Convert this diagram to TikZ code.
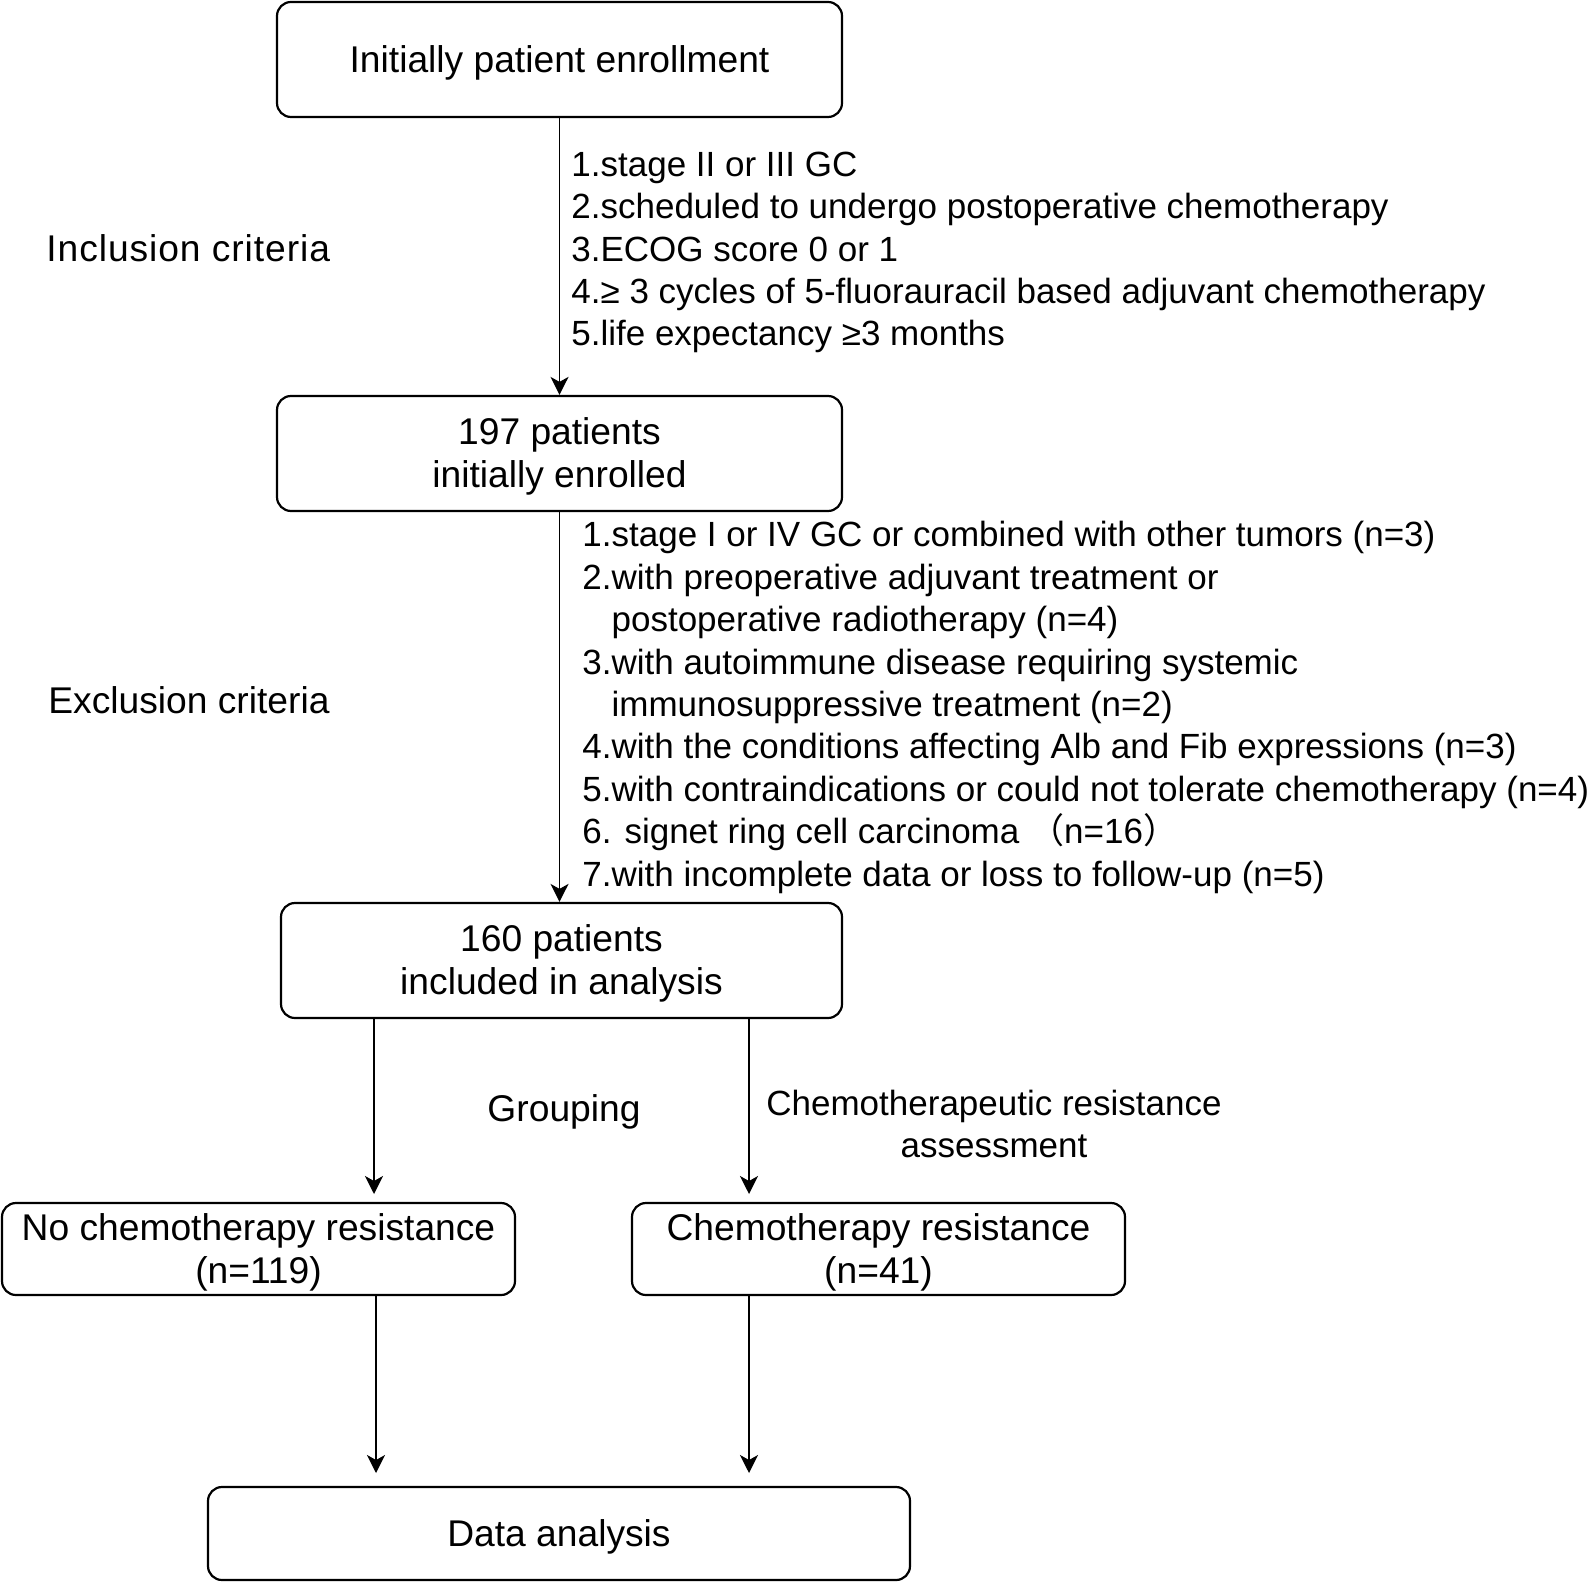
\documentclass[tikz,border=0pt]{standalone}
\usepackage{fontspec}
\setmainfont{Liberation Sans}
\newfontfamily\cjk{Noto Sans CJK SC}
\usepackage{tikz}
\usetikzlibrary{shapes, arrows.meta, positioning}
\newcommand{\fstrut}{\rule[-0.212em]{0pt}{1.117em}}
\tikzstyle{box} = [rectangle, rounded corners=7pt, draw, line width=1.1pt, align=center, inner sep=0pt,
	font=\fontsize{18.6}{21.6}\selectfont]
\tikzstyle{note} = [inner sep=0pt, align=left, anchor=west]
\tikzstyle{list} = [note, font=\fontsize{17.5}{21.2}\selectfont]
\tikzstyle{line} = [draw, line width=0.9pt, -{Stealth[length=9pt, width=9pt, inset=2.5pt]}]

\begin{document}
\begin{tikzpicture}[x=0.5pt, y=-0.5pt, font=\fontsize{18.6}{21}\selectfont]
			\useasboundingbox (0, 0) rectangle (1593, 1582);
			\node [box, minimum width=282.5pt, minimum height=57.5pt] (enroll) at (559.5, 59.5) {\fstrut Initially patient enrollment\fstrut};
			\node [box, minimum width=282.5pt, minimum height=57.5pt] (enrolled) at (559.5, 453.5) {\fstrut 197 patients\\initially enrolled\fstrut};
			\node [box, minimum width=280.5pt, minimum height=57.5pt] (included) at (561.5, 960.5) {\fstrut 160 patients\\included in analysis\fstrut};
			\node [box, minimum width=256.5pt, minimum height=46pt] (nores) at (258.5, 1249) {\fstrut No chemotherapy resistance\\(n=119)\fstrut};
			\node [box, minimum width=246.5pt, minimum height=46pt] (res) at (878.5, 1249) {\fstrut Chemotherapy resistance\\(n=41)\fstrut};
			\node [box, minimum width=351pt, minimum height=46.5pt] (analysis) at (559, 1533.5) {\fstrut Data analysis\fstrut};
			
			\node [note] (inclab) at (46, 248) {\addfontfeature{LetterSpace=2.5}Inclusion criteria};
			\node [note] (exclab) at (48, 700) {Exclusion criteria};
			\node [list] (inclist) at (571, 252.5) {1.stage II or III GC\\
				2.scheduled to undergo postoperative chemotherapy\\
				3.ECOG score 0 or 1\\
				4.≥ 3 cycles of 5-fluorauracil based adjuvant chemotherapy\\
				5.life expectancy ≥3 months};
			\node [list] (exclist) at (582, 707.5) {1.stage I or IV GC or combined with other tumors (n=3)\\
				2.with preoperative adjuvant treatment or\\
				\phantom{2.}postoperative radiotherapy (n=4)\\
				3.with autoimmune disease requiring systemic\\
				\phantom{3.}immunosuppressive treatment (n=2)\\
				4.with the conditions affecting Alb and Fib expressions (n=3)\\
				5.with contraindications or could not tolerate chemotherapy (n=4)\\
				6. signet ring cell carcinoma {\cjk （}n=16{\cjk ）}\\
				7.with incomplete data or loss to follow-up (n=5)};
			\node (grouping) at (564, 1112) {Grouping};
			\node [align=center, font=\fontsize{17.5}{21.2}\selectfont] (assess) at (994, 1124) {Chemotherapeutic resistance\\assessment};
			
			\coordinate (g1) at (374, 1194);
			\coordinate (g2) at (749, 1194);
			\coordinate (g3) at (376, 1473);
			\coordinate (g4) at (749, 1473);
			
			\path [line] (enroll) -- (enrolled);
			\path [line] (enrolled.south) -- (enrolled.south |- included.north);
			\path [line] (included.south -| g1) -- (g1);
			\path [line] (included.south -| g2) -- (g2);
			\path [line] (nores.south -| g3) -- (g3);
			\path [line] (res.south -| g4) -- (g4);
		\end{tikzpicture}
\end{document}
